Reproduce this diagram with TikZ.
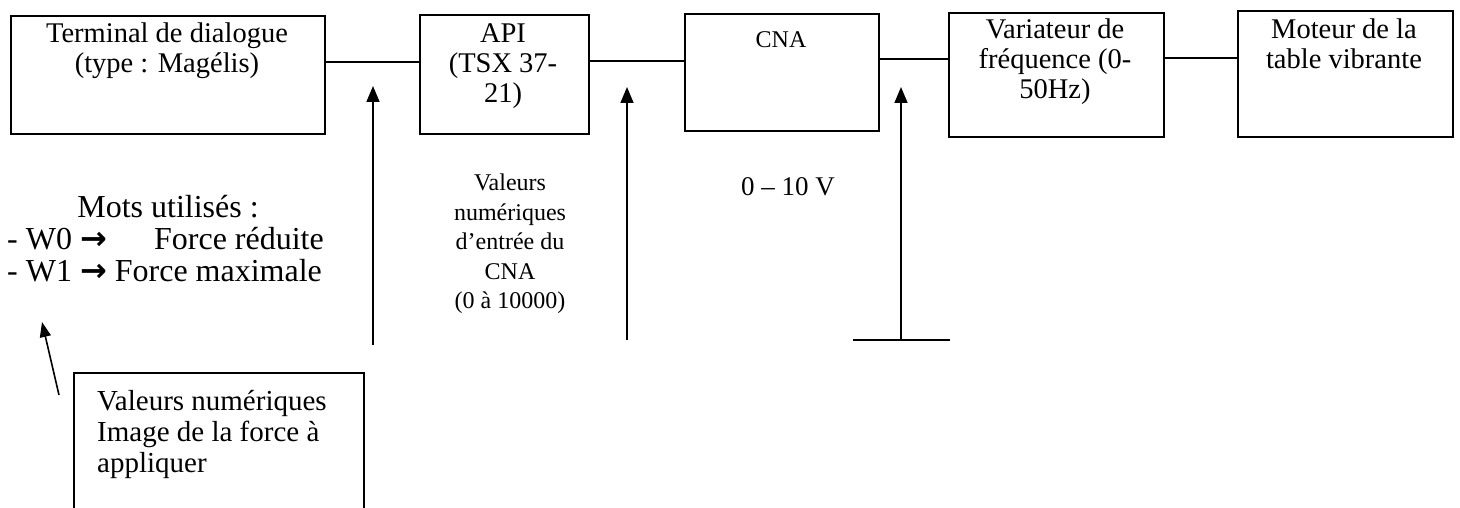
\documentclass[tikz,border=0pt]{standalone}
\usepackage{fontspec}
\setmainfont{Liberation Serif}
\newfontfamily\arrowfont{DejaVu Sans}
\usetikzlibrary{arrows.meta}
\begin{document}
\begin{tikzpicture}[x=1pt,y=-1pt,
  box/.style={draw,line width=1.8pt,inner sep=0pt},
  conn/.style={line width=1.6pt},
  sig/.style={line width=1.6pt,-{Triangle[length=16pt,width=13pt]}},
  sigsmall/.style={line width=1.6pt,-{Triangle[length=15pt,width=11pt]}},
  bigtxt/.style={font=\fontsize{28.5}{30}\selectfont,inner sep=0pt,align=center},
  lefttxt/.style={font=\fontsize{32}{33}\selectfont,inner sep=0pt},
  smalltxt/.style={font=\fontsize{24}{29.5}\selectfont,inner sep=0pt,align=center}
]
\useasboundingbox (0,0) rectangle (1460,508);
\clip (0,0) rectangle (1460,508);
\fill[white] (0,0) rectangle (1460,508);

% top boxes
\node[box,minimum width=314pt,minimum height=118pt,anchor=north west] (term) at (10,15) {};
\node[box,minimum width=169pt,minimum height=119pt,anchor=north west] (api) at (419,14) {};
\node[box,minimum width=194pt,minimum height=117pt,anchor=north west] (cna) at (684,13) {};
\node[box,minimum width=215pt,minimum height=124pt,anchor=north west] (var) at (948,12) {};
\node[box,minimum width=215pt,minimum height=126pt,anchor=north west] (mot) at (1237,10) {};

\node[bigtxt,anchor=north] (termtxt) at (167,21) {\strut Terminal de dialogue\\(type : Magélis)};
\node[bigtxt,anchor=north] (apitxt) at (503,21) {\strut API\\(TSX 37-\\21)};
\node[smalltxt,anchor=north] (cnatxt) at (781,27) {\strut CNA};
\node[bigtxt,anchor=north] (vartxt) at (1055,17) {\strut Variateur de\\fréquence (0-\\50Hz)};
\node[bigtxt,anchor=north] (mottxt) at (1344,17) {\strut Moteur de la\\table vibrante};

% connectors between boxes
\coordinate (l1) at (0,62);
\coordinate (l2) at (0,61);
\coordinate (l3) at (0,59);
\coordinate (l4) at (0,58);
\draw[conn] (term.east |- l1) -- (api.west |- l1);
\draw[conn] (api.east |- l2) -- (cna.west |- l2);
\draw[conn] (cna.east |- l3) -- (var.west |- l3);
\draw[conn] (var.east |- l4) -- (mot.west |- l4);

% signal arrows
\coordinate (a1b) at (373,345);
\coordinate (a1t) at (373,86);
\coordinate (a2b) at (627,340);
\coordinate (a2t) at (627,87);
\coordinate (g1) at (853,340);
\coordinate (g2) at (950,340);
\coordinate (a3b) at (901,340);
\coordinate (a3t) at (901,87);
\draw[sig] (a1b) -- (a1t);
\draw[sig] (a2b) -- (a2t);
\draw[sig] (a3b) -- (a3t);
\draw[conn] (g1) -- (g2);

% middle labels
\node[smalltxt,anchor=north] (midtxt) at (510,170) {\strut Valeurs\\numériques\\d’entrée du\\CNA\\(0 à 10000)};
\node[anchor=base east,inner sep=0pt,font=\fontsize{27}{30}\selectfont] (volt) at (835,196) {0 – 10 V};

% left text
\node[lefttxt,anchor=base] (mots) at (168,217) {Mots utilisés :};
\node[lefttxt,anchor=base west] (w0) at (7,249) {- W0 {\arrowfont\bfseries →}};
\node[lefttxt,anchor=base east] (w0r) at (324,249) {Force réduite};
\node[lefttxt,anchor=base west] (w1) at (7,281) {- W1 {\arrowfont\bfseries →} Force maximale};

% bottom box
\node[box,minimum width=290pt,minimum height=170pt,anchor=north west] (vbox) at (73,372) {};
\node[anchor=north west,font=\fontsize{29}{31}\selectfont,align=left,inner sep=0pt] (vboxtxt) at (97,389) {\strut Valeurs numériques\\Image de la force à\\appliquer};
\coordinate (s1) at (59,395);
\coordinate (s2) at (42,322);
\draw[sigsmall] (s1) -- (s2);
\end{tikzpicture}
\end{document}
